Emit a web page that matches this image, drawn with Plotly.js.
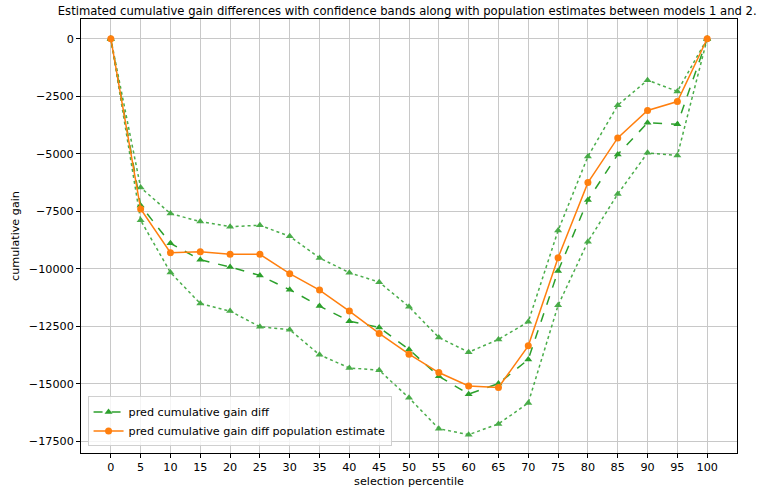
<!DOCTYPE html>
<html>
<head>
<meta charset="utf-8">
<script src="https://cdn.plot.ly/plotly-3.0.1.min.js"></script>
<style>
html,body{margin:0;padding:0;background:#fff;}
#chart{width:764px;height:492px;}
</style>
</head>
<body>
<div id="chart"></div>
<script>
const percentiles = [0,5,10,15,20,25,30,35,40,45,50,55,60,65,70,75,80,85,90,95,100];
const gainDiff = [0,-7250,-8895,-9605,-9925,-10290,-10910,-11620,-12275,-12550,-13505,-14670,-15450,-14990,-13940,-10100,-7010,-5035,-3655,-3715,0];
const upperBand = [0,-6470,-7600,-7950,-8170,-8110,-8590,-9530,-10170,-10580,-11650,-12985,-13625,-13070,-12305,-8340,-5120,-2890,-1800,-2290,0];
const lowerBand = [0,-7890,-10160,-11510,-11840,-12520,-12650,-13740,-14310,-14410,-15610,-16950,-17210,-16745,-15830,-11590,-8820,-6750,-4960,-5080,0];
const populationEstimate = [0,-7400,-9300,-9260,-9370,-9370,-10215,-10925,-11840,-12810,-13712,-14510,-15090,-15160,-13350,-9520,-6255,-4310,-3120,-2730,0];
const yTickVals = [0,-2500,-5000,-7500,-10000,-12500,-15000,-17500];
const yTickText = yTickVals.map(v => v === 0 ? "0" : "\u2212" + Math.abs(v));

const green = "#2ca02c", orange = "#ff7f0e";
const traces = [
  {x: percentiles, y: gainDiff, mode: "lines+markers", name: "pred cumulative gain diff",
   line: {color: green, width: 1.5, dash: "dash"}, marker: {symbol: "triangle-up", size: 7, color: green}},
  {x: percentiles, y: upperBand, mode: "lines+markers", showlegend: false,
   line: {color: green, width: 1.5, dash: "dot"}, marker: {symbol: "triangle-up", size: 7, color: green}, opacity: 0.85},
  {x: percentiles, y: lowerBand, mode: "lines+markers", showlegend: false,
   line: {color: green, width: 1.5, dash: "dot"}, marker: {symbol: "triangle-up", size: 7, color: green}, opacity: 0.85},
  {x: percentiles, y: populationEstimate, mode: "lines+markers", name: "pred cumulative gain diff population estimate",
   line: {color: orange, width: 1.5}, marker: {symbol: "circle", size: 7, color: orange}}
];

const axisCommon = {
  showline: true, mirror: true, linecolor: "#000", linewidth: 1,
  ticks: "outside", ticklen: 4, tickcolor: "#000",
  showgrid: true, gridcolor: "#c8c8c8", gridwidth: 1, zeroline: false,
  tickfont: {family: "DejaVu Sans", size: 11.2, color: "#000"}
};

const layout = {
  width: 764, height: 492,
  margin: {l: 81, r: 27, t: 19, b: 39},
  paper_bgcolor: "#fff", plot_bgcolor: "#fff",
  font: {family: "DejaVu Sans", color: "#000"},
  title: {text: "Estimated cumulative gain differences with confidence bands along with population estimates between models 1 and 2.",
    font: {family: "DejaVu Sans", size: 11.6, color: "#000"}, x: 0.533, xanchor: "center", y: 0.977, yanchor: "middle"},
  xaxis: Object.assign({}, axisCommon, {range: [-5, 105], tickvals: percentiles, ticktext: percentiles.map(String),
    title: {text: "selection percentile", font: {family: "DejaVu Sans", size: 11.2}, standoff: 3}}),
  yaxis: Object.assign({}, axisCommon, {range: [-18007, 857], tickvals: yTickVals, ticktext: yTickText,
    title: {text: "cumulative gain", font: {family: "DejaVu Sans", size: 11.2}, standoff: 6}}),
  showlegend: true,
  legend: {x: 0.01, y: 0.015, xanchor: "left", yanchor: "bottom", bgcolor: "rgba(255,255,255,0.8)",
    bordercolor: "#d0d0d0", borderwidth: 1, font: {family: "DejaVu Sans", size: 11.2}, tracegroupgap: 0, itemwidth: 30}
};

Plotly.newPlot("chart", traces, layout, {displayModeBar: false, staticPlot: true});
</script>
</body>
</html>
